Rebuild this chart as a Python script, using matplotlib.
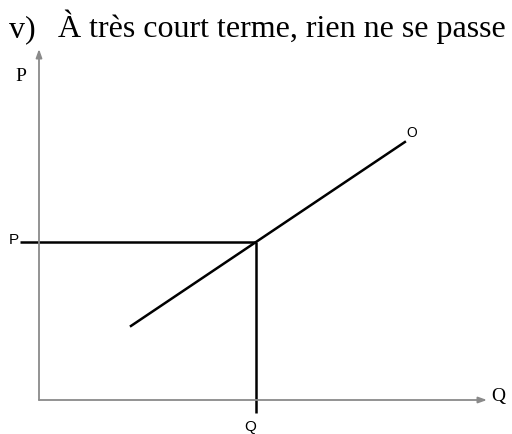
import matplotlib
matplotlib.use("Agg")
import matplotlib.pyplot as plt

# Schematic supply diagram, axis units 0..100 for Q and P
supply_q = [20.3, 81.9]
supply_p = [20.9, 73.7]
eq_q = 48.4
eq_p = 45.1
guide_start_q = -4.2   # P guide line starts left of the P axis
guide_end_p = -3.7     # Q guide line ends below the Q axis

title_num = "v)"
title = "\u00c0 tr\u00e8s court terme, rien ne se passe"

W, H = 512, 434
fig = plt.figure(figsize=(W / 100, H / 100), dpi=100)

# axes: origin at pixel (39, 400), arrows reach x=487 and y=49
ax = fig.add_axes([39 / W, 34 / H, 448 / W, 351 / H])
ax.set_xlim(0, 100)
ax.set_ylim(0, 100)
ax.axis("off")

axis_col = "#8a8a8a"
arrow = dict(arrowstyle="-|>,head_length=0.5,head_width=0.18",
             color=axis_col, lw=1.3, shrinkA=0, shrinkB=0)
ax.annotate("", xy=(100, 0), xytext=(0, 0), arrowprops=arrow,
            annotation_clip=False)
ax.annotate("", xy=(0, 100), xytext=(0, 0), arrowprops=arrow,
            annotation_clip=False)

# supply curve
ax.plot(supply_q, supply_p, color="black", lw=1.8, solid_capstyle="butt",
        clip_on=False)
# guide lines to the equilibrium point
ax.plot([guide_start_q, eq_q], [eq_p, eq_p], color="black", lw=1.8,
        solid_capstyle="butt", clip_on=False)
ax.plot([eq_q, eq_q], [eq_p, guide_end_p], color="black", lw=1.8,
        solid_capstyle="butt", clip_on=False)

sans = "Liberation Sans"
serif = "Liberation Serif"

ax.text(guide_start_q - 0.4, eq_p + 0.5, "P", family=sans, fontsize=11,
        ha="right", va="center")
ax.text(eq_q - 1.2, guide_end_p - 4.0, "Q", family=sans, fontsize=11,
        ha="center", va="center")
ax.text(supply_q[1] + 1.4, supply_p[1] + 2.5, "O", family=sans, fontsize=10,
        ha="center", va="center")

# axis names
ax.text(-4.0, 92.2, "P", family=serif, fontsize=14, ha="center", va="center")
ax.text(102.6, 1.0, "Q", family=serif, fontsize=14, ha="center", va="center")

fig.text(9 / W, 1 - 37 / H, title_num, family=serif, fontsize=23,
         ha="left", va="baseline")
fig.text(58 / W, 1 - 37 / H, title, family=serif, fontsize=23,
         ha="left", va="baseline")

fig.savefig("out.png", dpi=100)
